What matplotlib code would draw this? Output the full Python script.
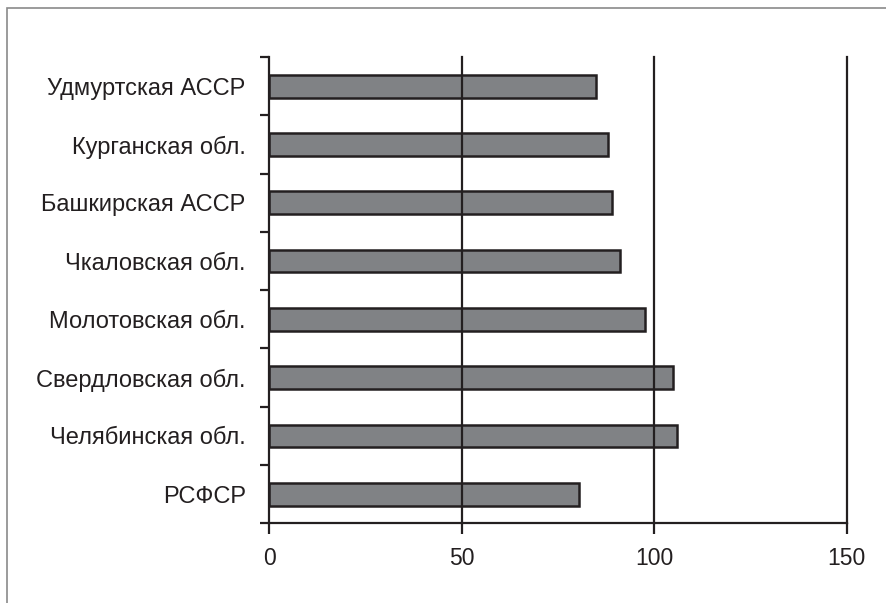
import numpy as np
import matplotlib.pyplot as plt
from matplotlib.patches import Rectangle

plt.rcParams['font.family'] = ['Liberation Sans', 'DejaVu Sans']

# данные (снизу вверх)
regions = ['РСФСР', 'Челябинская обл.', 'Свердловская обл.', 'Молотовская обл.',
           'Чкаловская обл.', 'Башкирская АССР', 'Курганская обл.', 'Удмуртская АССР']
values = [80.5, 106, 105, 97.5, 91, 89, 88, 85]
x_ticks = [0, 50, 100, 150]

ink = '#231f20'
bar_col = '#808285'

fig = plt.figure(figsize=(8.86, 6.03), dpi=100)
ax = fig.add_axes([269.3 / 886, 1 - 523.3 / 603, (846.7 - 269.3) / 886, (523.3 - 57) / 603])

y = np.arange(len(regions))
ax.barh(y, values, height=0.39, color=bar_col, edgecolor=ink, linewidth=1.8, zorder=2)

ax.set_xlim(0, 150)
ax.set_ylim(-0.5, len(regions) - 0.5)
ax.set_xticks(x_ticks)
ax.set_yticks(y)
ax.set_yticklabels(regions)
ax.set_yticks(np.arange(len(regions) + 1) - 0.5, minor=True)

for v in x_ticks[1:]:
    ax.axvline(v, color=ink, lw=1.6, zorder=3, clip_on=False)

for s in ['top', 'right']:
    ax.spines[s].set_visible(False)
for s in ['left', 'bottom']:
    ax.spines[s].set_color(ink)
    ax.spines[s].set_linewidth(1.6)
    ax.spines[s].set_zorder(4)

ax.tick_params(axis='y', which='major', length=0, pad=17, labelsize=17, labelcolor=ink)
ax.tick_params(axis='y', which='minor', length=6.5, width=1.6, color=ink, direction='out')
ax.tick_params(axis='x', which='major', length=8, width=1.6, color=ink, direction='out',
               pad=9, labelsize=16.5, labelcolor=ink)

# рамка вокруг рисунка
fig.patches.append(Rectangle((7 / 886, -0.2), 1.2, 1.2 + (603 - 8) / 603 - 1.0,
                             transform=fig.transFigure, fill=False,
                             edgecolor='#8a8a8a', linewidth=1.2))

fig.savefig('out.png', dpi=100)
